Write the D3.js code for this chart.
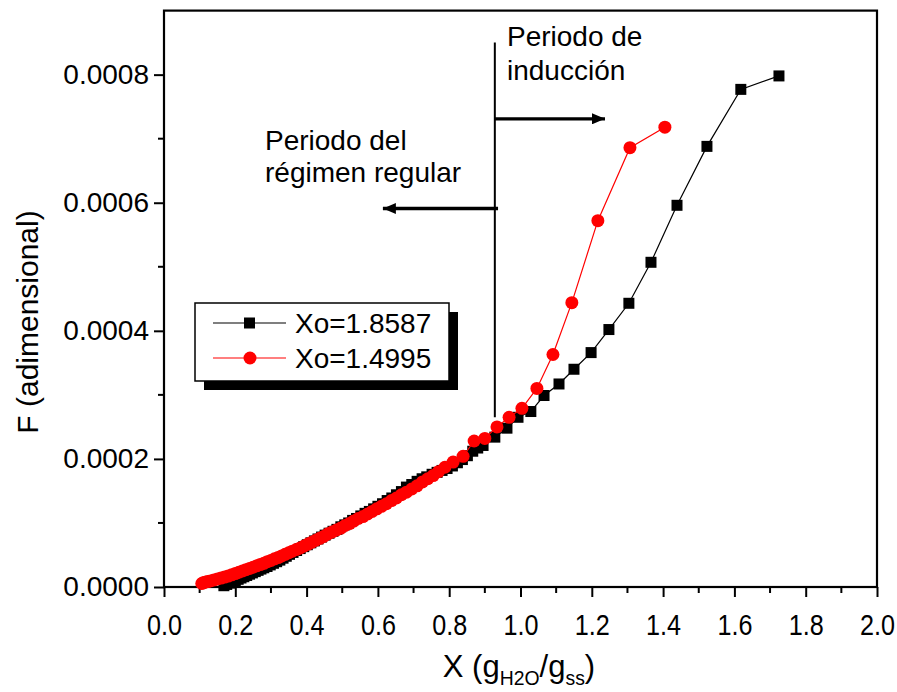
<!DOCTYPE html>
<html>
<head>
<meta charset="utf-8">
<script src="https://cdn.jsdelivr.net/npm/d3@7"></script>
<style>
  html, body { margin: 0; padding: 0; background: #fff; }
  svg { display: block; font-family: Arial, "Liberation Sans", Helvetica, sans-serif; }
</style>
</head>
<body>
<svg id="chart" width="897" height="692"></svg>
<script>
// Moisture content X (g H2O / g ss) and dimensionless F (values in units of 1e-4)
const seriesNames = ["Xo=1.8587", "Xo=1.4995"];

const blackX = [0.168,0.176,0.184,0.192,0.200,0.208,0.216,0.224,0.232,0.240,0.248,0.256,0.264,0.272,0.280,0.289,0.298,0.307,0.316,0.325,0.334,0.343,0.352,0.362,0.372,0.382,0.392,0.402,0.412,0.422,0.432,0.442,0.452,0.463,0.474,0.485,0.496,0.507,0.518,0.529,0.540,0.552,0.564,0.576,0.588,0.600,0.613,0.626,0.639,0.652,0.666,0.680,0.695,0.710,0.724,0.737,0.752,0.766,0.780,0.794,0.809,0.823,0.837,0.851,0.866,0.880,0.895,0.928,0.962,0.993,1.029,1.066,1.108,1.150,1.198,1.248,1.304,1.366,1.439,1.523,1.618,1.725];
const blackF = [0.02,0.04,0.06,0.08,0.10,0.12,0.14,0.16,0.18,0.20,0.22,0.24,0.26,0.28,0.30,0.32,0.345,0.37,0.395,0.42,0.45,0.48,0.51,0.54,0.57,0.60,0.63,0.66,0.69,0.72,0.75,0.78,0.81,0.84,0.87,0.90,0.94,0.97,1.00,1.04,1.07,1.11,1.15,1.18,1.22,1.26,1.30,1.35,1.39,1.44,1.49,1.56,1.60,1.65,1.69,1.72,1.76,1.79,1.82,1.85,1.89,1.94,1.99,2.05,2.12,2.17,2.21,2.34,2.48,2.65,2.74,2.99,3.17,3.40,3.66,4.02,4.43,5.07,5.96,6.88,7.77,7.98];

const redX = [0.106,0.110,0.115,0.122,0.130,0.140,0.150,0.160,0.170,0.180,0.190,0.200,0.210,0.220,0.230,0.240,0.250,0.260,0.270,0.280,0.290,0.300,0.310,0.320,0.330,0.340,0.350,0.360,0.371,0.382,0.393,0.404,0.415,0.426,0.437,0.448,0.460,0.472,0.484,0.496,0.508,0.520,0.532,0.545,0.558,0.571,0.584,0.597,0.610,0.624,0.638,0.652,0.666,0.680,0.695,0.710,0.725,0.740,0.755,0.770,0.788,0.811,0.839,0.870,0.900,0.934,0.968,1.004,1.046,1.091,1.144,1.217,1.307,1.405];
const redF = [0.055,0.065,0.075,0.085,0.095,0.11,0.125,0.14,0.155,0.17,0.19,0.21,0.23,0.25,0.27,0.29,0.31,0.33,0.35,0.37,0.395,0.415,0.44,0.46,0.485,0.51,0.535,0.56,0.585,0.61,0.64,0.67,0.70,0.73,0.76,0.79,0.83,0.86,0.89,0.92,0.96,0.99,1.03,1.07,1.10,1.14,1.18,1.22,1.26,1.30,1.35,1.39,1.44,1.48,1.53,1.58,1.64,1.69,1.74,1.80,1.87,1.95,2.04,2.28,2.32,2.50,2.65,2.79,3.10,3.63,4.44,5.72,6.86,7.18];

const xTicks = [0.0,0.2,0.4,0.6,0.8,1.0,1.2,1.4,1.6,1.8,2.0];
const yTicks = [0.0000,0.0002,0.0004,0.0006,0.0008];

// Boundary between the two drying periods and the arrows pointing to each
const boundaryX = 0.928;
const boundaryF = [0.000265, 0.00085];
const arrowRight = {x0: 0.928, x1: 1.237, f: 0.000731};   // towards "Periodo de inducción"
const arrowLeft  = {x0: 0.937, x1: 0.614, f: 0.000591};   // towards "Periodo del régimen regular"

const svg = d3.select("#chart");
const margin = {left: 164, right: 877, top: 10.6, bottom: 587};

const x = d3.scaleLinear().domain([0, 2]).range([margin.left, margin.right]);
const y = d3.scaleLinear().domain([0, 0.0009]).range([margin.bottom, margin.top]);

const toPoints = (xs, fs) => xs.map((v, i) => ({x: v, f: fs[i] * 1e-4}));
const black = toPoints(blackX, blackF);
const red = toPoints(redX, redF);

// Axes: major ticks outside, minor ticks between
const xAxis = d3.axisBottom(x).tickValues(xTicks).tickFormat(d3.format(".1f")).tickSizeInner(10).tickSizeOuter(0).tickPadding(17);
const yAxis = d3.axisLeft(y).tickValues(yTicks).tickFormat(d3.format(".4f")).tickSizeInner(10).tickSizeOuter(0).tickPadding(5);

const gx = svg.append("g").attr("transform", `translate(0,${margin.bottom})`).call(xAxis);
const gy = svg.append("g").attr("transform", `translate(${margin.left},0)`).call(yAxis);

const xMinor = d3.range(1, 20, 2).map(d => d / 10);
const yMinor = [0.0001, 0.0003, 0.0005, 0.0007];
gx.selectAll(".minor").data(xMinor).enter().append("line")
  .attr("x1", d => x(d)).attr("x2", d => x(d)).attr("y1", 0).attr("y2", 6)
  .attr("stroke", "#000").attr("stroke-width", 2);
gy.selectAll(".minor").data(yMinor).enter().append("line")
  .attr("y1", d => y(d)).attr("y2", d => y(d)).attr("x1", 0).attr("x2", -6)
  .attr("stroke", "#000").attr("stroke-width", 2);

[gx, gy].forEach(g => {
  g.select(".domain").remove();
  g.selectAll(".tick line").attr("stroke", "#000").attr("stroke-width", 2);
  g.selectAll(".tick text").attr("fill", "#000").attr("font-family", "Arial, 'Liberation Sans', sans-serif");
});
gy.selectAll(".tick text").attr("font-size", 28);
// x tick labels are set in a narrow face: squeeze horizontally around each tick
gx.selectAll(".tick text").attr("font-size", 30)
  .attr("transform", "scale(0.84,1)");

// Frame
svg.append("rect")
  .attr("x", margin.left).attr("y", margin.top)
  .attr("width", margin.right - margin.left).attr("height", margin.bottom - margin.top)
  .attr("fill", "none").attr("stroke", "#000").attr("stroke-width", 2.2);

// Series
const line = d3.line().x(d => x(d.x)).y(d => y(d.f));

svg.append("path").datum(black).attr("d", line)
  .attr("fill", "none").attr("stroke", "#000").attr("stroke-width", 1.2);
svg.append("g").selectAll("rect").data(black).enter().append("rect")
  .attr("x", d => x(d.x) - 5.5).attr("y", d => y(d.f) - 5.5)
  .attr("width", 11).attr("height", 11).attr("fill", "#000");

svg.append("path").datum(red).attr("d", line)
  .attr("fill", "none").attr("stroke", "#ff0000").attr("stroke-width", 1.2);
svg.append("g").selectAll("circle").data(red).enter().append("circle")
  .attr("cx", d => x(d.x)).attr("cy", d => y(d.f)).attr("r", 6.5).attr("fill", "#ff0000");

// Period boundary and arrows
svg.append("defs").append("marker")
  .attr("id", "head").attr("viewBox", "0 0 13 11").attr("refX", 13).attr("refY", 5.5)
  .attr("markerWidth", 13).attr("markerHeight", 11).attr("markerUnits", "userSpaceOnUse")
  .attr("orient", "auto")
  .append("path").attr("d", "M0,0 L13,5.5 L0,11 Z").attr("fill", "#000");

svg.append("line")
  .attr("x1", x(boundaryX)).attr("x2", x(boundaryX))
  .attr("y1", y(boundaryF[0])).attr("y2", y(boundaryF[1]))
  .attr("stroke", "#000").attr("stroke-width", 2);

[arrowRight, arrowLeft].forEach(a => {
  svg.append("line")
    .attr("x1", x(a.x0)).attr("x2", x(a.x1)).attr("y1", y(a.f)).attr("y2", y(a.f))
    .attr("stroke", "#000").attr("stroke-width", 3.4).attr("marker-end", "url(#head)");
});

const note = svg.append("g").attr("font-size", 28).attr("fill", "#000");
note.append("text").attr("x", 507).attr("y", 46).text("Periodo de");
note.append("text").attr("x", 507).attr("y", 80).text("inducción");
note.append("text").attr("x", 265).attr("y", 150).text("Periodo del");
note.append("text").attr("x", 265).attr("y", 182).text("régimen regular");

// Legend with drop shadow
const lg = svg.append("g").attr("transform", "translate(195,303)");
lg.append("rect").attr("x", 9).attr("y", 9).attr("width", 254).attr("height", 78).attr("fill", "#000");
lg.append("rect").attr("x", 0).attr("y", 0).attr("width", 254).attr("height", 78)
  .attr("fill", "#fff").attr("stroke", "#000").attr("stroke-width", 1.5);
const rows = [{name: seriesNames[0], color: "#000", shape: "square", cy: 20},
              {name: seriesNames[1], color: "#ff0000", shape: "circle", cy: 55}];
rows.forEach(r => {
  lg.append("line").attr("x1", 18).attr("x2", 91).attr("y1", r.cy).attr("y2", r.cy)
    .attr("stroke", r.color).attr("stroke-width", 1.2);
  if (r.shape === "square") {
    lg.append("rect").attr("x", 49).attr("y", r.cy - 5.5).attr("width", 11).attr("height", 11).attr("fill", r.color);
  } else {
    lg.append("circle").attr("cx", 55).attr("cy", r.cy).attr("r", 6.5).attr("fill", r.color);
  }
  lg.append("text").attr("x", 100).attr("y", r.cy + 10).attr("font-size", 28).attr("fill", "#000").text(r.name);
});

// Axis titles
svg.append("text")
  .attr("transform", "translate(38,322) rotate(-90)")
  .attr("text-anchor", "middle").attr("font-size", 30).attr("fill", "#000")
  .text("F (adimensional)");

const xt = svg.append("text").attr("transform", "translate(519,677) scale(0.97,1)")
  .attr("text-anchor", "middle").attr("font-size", 32).attr("fill", "#000");
xt.append("tspan").text("X (g");
xt.append("tspan").attr("font-size", 20).attr("dy", 8).text("H2O");
xt.append("tspan").attr("dy", -8).text("/g");
xt.append("tspan").attr("font-size", 20).attr("dy", 8).text("ss");
xt.append("tspan").attr("dy", -8).text(")");
</script>
</body>
</html>
